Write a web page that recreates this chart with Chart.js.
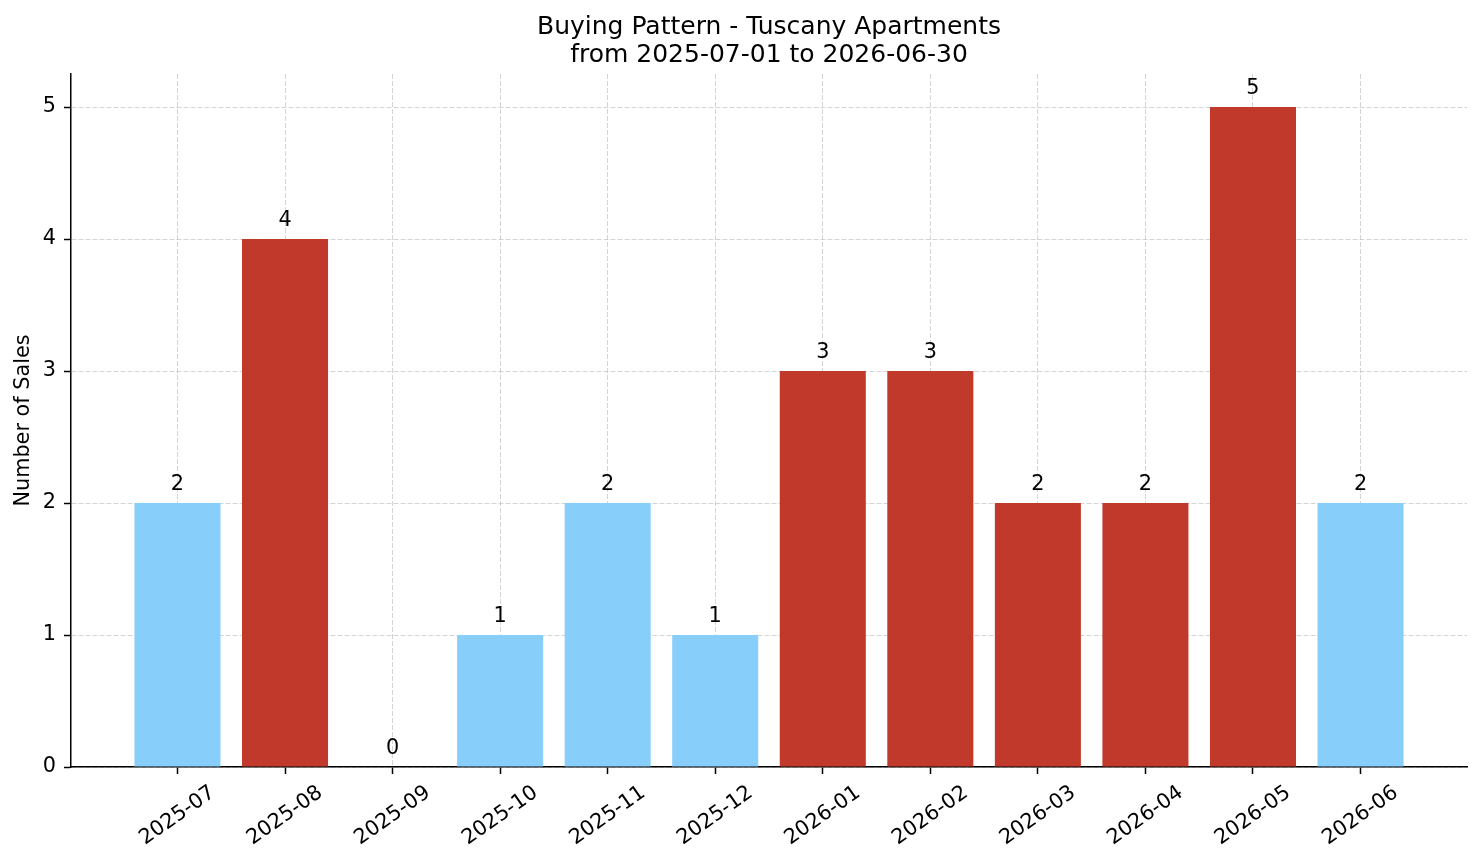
<!DOCTYPE html>
<html>
<head>
<meta charset="utf-8">
<script src="https://cdn.jsdelivr.net/npm/chart.js@4/dist/chart.umd.min.js"></script>
<style>
  html, body { margin: 0; padding: 0; background: #fff; }
  #wrap { width: 1481px; height: 863px; }
</style>
</head>
<body>
<div id="wrap"><canvas id="c" width="1481" height="863"></canvas></div>
<script>
const titleLines = ['Buying Pattern - Tuscany Apartments', 'from 2025-07-01 to 2026-06-30'];
const yAxisTitle = 'Number of Sales';
const categories = ['2025-07','2025-08','2025-09','2025-10','2025-11','2025-12','2026-01','2026-02','2026-03','2026-04','2026-05','2026-06'];
const sales = [2, 4, 0, 1, 2, 1, 3, 3, 2, 2, 5, 2];
const highlighted = [false, true, false, false, false, false, true, true, true, true, true, false];
const yTicks = [0, 1, 2, 3, 4, 5];

const FONT = "'DejaVu Sans', sans-serif";
const RED = '#c0392b';
const BLUE = '#87cefa';
const GRID = 'rgba(176,176,176,0.55)';

const textPlugin = {
  id: 'textPlugin',
  afterDraw(chart) {
    const ctx = chart.ctx;
    const area = chart.chartArea;
    const xs = chart.scales.x;
    ctx.save();
    ctx.fillStyle = '#000';
    // title
    ctx.font = '25px ' + FONT;
    ctx.textAlign = 'center';
    ctx.textBaseline = 'alphabetic';
    const cx = (area.left + area.right) / 2;
    ctx.fillText(titleLines[0], cx, 34);
    ctx.fillText(titleLines[1], cx, 62);
    // y axis title
    ctx.save();
    ctx.font = '20.8px ' + FONT;
    ctx.translate(23.5, (area.top + area.bottom) / 2);
    ctx.rotate(-Math.PI / 2);
    ctx.textBaseline = 'middle';
    ctx.fillText(yAxisTitle, 0, 0);
    ctx.restore();
    // value labels
    const meta = chart.getDatasetMeta(0);
    ctx.font = '20.8px ' + FONT;
    ctx.textAlign = 'center';
    ctx.textBaseline = 'alphabetic';
    meta.data.forEach((el, i) => {
      ctx.fillText(String(sales[i]), el.x, el.y - 13.5);
    });
    // rotated x tick labels (centered bounding box under tick)
    const ang = 35 * Math.PI / 180;
    ctx.font = '20.8px ' + FONT;
    categories.forEach((lab, i) => {
      const x = xs.getPixelForValue(i);
      const w = ctx.measureText(lab).width;
      const h = 24;
      const H = w * Math.sin(ang) + h * Math.cos(ang);
      const top = area.bottom + 7 + 7;
      ctx.save();
      ctx.translate(x, top + H / 2);
      ctx.rotate(-ang);
      ctx.textAlign = 'center';
      ctx.textBaseline = 'middle';
      ctx.fillText(lab, 0, 0);
      ctx.restore();
    });
    ctx.restore();
  }
};

new Chart(document.getElementById('c'), {
  type: 'bar',
  data: {
    datasets: [{
      data: sales.map((v, i) => ({ x: i, y: v })),
      backgroundColor: categories.map((_, i) => highlighted[i] ? RED : BLUE),
      borderWidth: 0,
      barPercentage: 0.8,
      categoryPercentage: 1.0
    }]
  },
  options: {
    responsive: false,
    animation: false,
    devicePixelRatio: 1,
    layout: { padding: { left: 0, top: 74, right: 14, bottom: 0 } },
    plugins: {
      legend: { display: false },
      title: { display: false },
      tooltip: { enabled: false }
    },
    scales: {
      x: {
        type: 'linear',
        min: -0.99,
        max: 11.99,
        offset: false,
        z: 1,
        afterBuildTicks(scale) { scale.ticks = categories.map((_, i) => ({ value: i })); },
        afterFit(scale) { scale.height = 96; },
        ticks: { display: false, includeBounds: false },
        grid: {
          color: GRID, lineWidth: 1, offset: false,
          drawTicks: true, tickLength: 7, tickColor: '#000', tickWidth: 1.5, tickBorderDash: []
        },
        border: { display: true, color: '#000', width: 1.5, dash: [5, 2] }
      },
      y: {
        type: 'linear',
        min: 0,
        max: 5.25,
        z: 1,
        afterBuildTicks(scale) { scale.ticks = yTicks.map(v => ({ value: v })); },
        afterFit(scale) { scale.width = 71; },
        ticks: { font: { family: FONT, size: 20.8 }, color: '#000', padding: 8, includeBounds: false },
        grid: {
          color: GRID, lineWidth: 1,
          drawTicks: true, tickLength: 7, tickColor: '#000', tickWidth: 1.5, tickBorderDash: []
        },
        border: { display: true, color: '#000', width: 1.5, dash: [5, 2] }
      }
    }
  },
  plugins: [textPlugin]
});
</script>
</body>
</html>
